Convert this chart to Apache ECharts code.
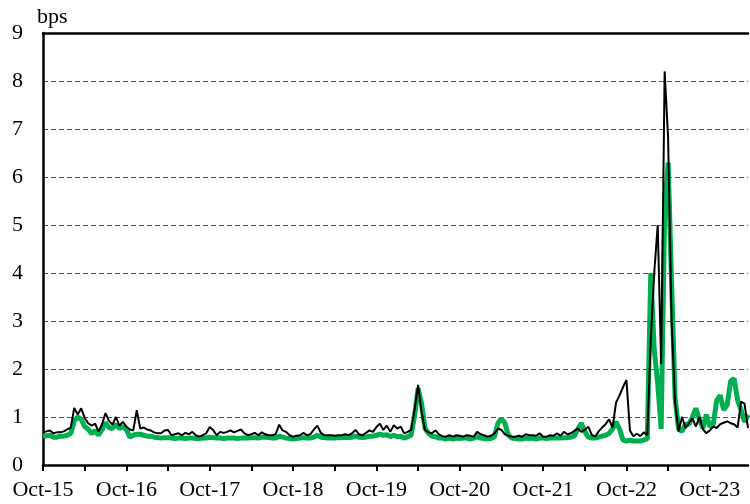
<!DOCTYPE html>
<html>
<head>
<meta charset="utf-8">
<script src="https://cdn.jsdelivr.net/npm/echarts@6/dist/echarts.min.js"></script>
<style>html,body{margin:0;padding:0;background:#fff}#c{width:750px;height:504px}</style>
</head>
<body>
<div id="c"></div>
<script>
// Semi-monthly observations from Oct-2015 to Mar-2024
const monthNames = ['Jan','Feb','Mar','Apr','May','Jun','Jul','Aug','Sep','Oct','Nov','Dec'];
const startMonthIndex = 9; // October
const startYear = 2015;

const blackSeries = [
0.69,0.70,0.72,0.66,0.68,0.68,0.70,0.74,0.78,1.19,1.05,1.18,0.98,0.87,0.82,0.86,0.70,0.85,1.08,0.92,
0.84,1.00,0.82,0.90,0.80,0.74,0.72,1.14,0.76,0.78,0.74,0.72,0.68,0.66,0.66,0.72,0.73,0.62,0.64,0.66,
0.62,0.67,0.64,0.69,0.62,0.59,0.62,0.66,0.79,0.73,0.62,0.69,0.67,0.69,0.72,0.68,0.71,0.74,0.66,0.62,
0.64,0.67,0.62,0.68,0.64,0.62,0.62,0.64,0.84,0.72,0.69,0.62,0.59,0.61,0.62,0.67,0.62,0.64,0.74,0.82,
0.67,0.62,0.62,0.62,0.61,0.62,0.62,0.64,0.62,0.66,0.73,0.64,0.62,0.67,0.72,0.69,0.79,0.86,0.73,0.82,
0.69,0.83,0.76,0.80,0.66,0.69,0.73,1.16,1.67,1.10,0.73,0.68,0.66,0.72,0.64,0.60,0.59,0.62,0.59,0.62,
0.61,0.59,0.62,0.61,0.59,0.69,0.64,0.62,0.59,0.61,0.66,0.76,0.73,0.64,0.61,0.59,0.59,0.61,0.59,0.64,
0.62,0.62,0.61,0.66,0.59,0.59,0.62,0.61,0.66,0.61,0.69,0.64,0.66,0.71,0.76,0.69,0.73,0.80,0.63,0.59,
0.70,0.78,0.85,0.95,0.78,1.30,1.45,1.62,1.77,0.72,0.60,0.65,0.60,0.68,0.62,2.60,4.00,5.00,2.10,8.20,
6.80,3.00,1.30,0.70,1.00,0.77,0.87,0.97,0.80,1.00,0.75,0.66,0.72,0.80,0.77,0.85,0.88,0.91,0.87,0.85,
0.78,1.32,1.28,0.77
];

const greenSeries = [
0.60,0.61,0.62,0.58,0.58,0.60,0.60,0.62,0.66,0.92,1.00,0.95,0.80,0.75,0.65,0.72,0.62,0.74,0.88,0.78,
0.76,0.85,0.76,0.80,0.74,0.58,0.62,0.64,0.64,0.62,0.60,0.60,0.58,0.57,0.56,0.57,0.57,0.56,0.55,0.56,
0.56,0.55,0.56,0.56,0.55,0.55,0.56,0.56,0.58,0.57,0.56,0.56,0.55,0.56,0.56,0.56,0.55,0.56,0.56,0.56,
0.57,0.57,0.56,0.58,0.58,0.57,0.56,0.56,0.60,0.58,0.56,0.55,0.54,0.55,0.56,0.57,0.56,0.56,0.58,0.62,
0.58,0.57,0.56,0.56,0.56,0.57,0.57,0.58,0.57,0.58,0.60,0.58,0.57,0.58,0.60,0.60,0.62,0.64,0.62,0.63,
0.59,0.62,0.59,0.60,0.56,0.59,0.62,1.03,1.60,1.28,0.76,0.66,0.60,0.59,0.56,0.56,0.54,0.56,0.54,0.56,
0.55,0.56,0.56,0.54,0.56,0.59,0.56,0.55,0.54,0.55,0.59,0.87,0.97,0.87,0.62,0.56,0.55,0.54,0.54,0.56,
0.55,0.56,0.54,0.56,0.56,0.55,0.56,0.56,0.56,0.56,0.57,0.57,0.58,0.60,0.75,0.87,0.70,0.58,0.56,0.56,
0.58,0.60,0.62,0.66,0.75,0.90,0.75,0.52,0.50,0.52,0.50,0.50,0.50,0.52,0.55,4.00,2.40,1.70,0.75,5.30,
6.30,3.80,1.40,0.75,0.70,0.85,0.85,1.00,1.18,0.95,0.77,1.05,0.80,0.85,1.35,1.45,1.15,1.25,1.75,1.80,
1.35,1.15,0.90,1.05
];

const xTickLabels = ['Oct-15','Oct-16','Oct-17','Oct-18','Oct-19','Oct-20','Oct-21','Oct-22','Oct-23'];
const yTicks = [0,1,2,3,4,5,6,7,8,9];

const categories = [];
for (let i = 0; i < blackSeries.length; i++) {
  const m = startMonthIndex + Math.floor(i / 2);
  const yr = startYear + Math.floor(m / 12);
  const name = monthNames[m % 12] + '-' + String(yr).slice(2);
  categories.push(i % 2 === 0 ? name : name + ' (2)');
}

const font = 'Liberation Serif';
const chart = echarts.init(document.getElementById('c'), null, {renderer: 'canvas'});
chart.setOption({
  animation: false,
  backgroundColor: '#fff',
  grid: {left: 43, right: 2, top: 33, bottom: 39, containLabel: false},
  xAxis: [{
    type: 'category',
    data: categories,
    boundaryGap: false,
    axisLine: {show: true, lineStyle: {color: '#000', width: 2.5}},
    axisTick: {show: true, interval: function (idx) { return idx % 12 === 0; }, length: 6, inside: false, lineStyle: {color: '#000', width: 2}},
    axisLabel: {
      interval: function (idx) { return idx % 24 === 0; },
      formatter: function (v, idx) { return xTickLabels[Math.round(idx / 24)] || ''; },
      fontFamily: font, fontSize: 22, color: '#000', margin: 14
    },
    splitLine: {show: false}
  }, {
    type: 'category',
    position: 'top',
    data: categories,
    boundaryGap: false,
    axisLine: {show: true, lineStyle: {color: '#000', width: 2.5}},
    axisTick: {show: false},
    axisLabel: {show: false},
    splitLine: {show: false}
  }],
  yAxis: {
    type: 'value',
    min: yTicks[0], max: yTicks[yTicks.length - 1], interval: 1,
    axisLine: {show: true, lineStyle: {color: '#000', width: 2.5}},
    axisTick: {show: false},
    axisLabel: {fontFamily: font, fontSize: 22, color: '#000', margin: 20},
    splitLine: {show: true, lineStyle: {color: '#555', width: 1, type: [5, 3]}}
  },
  graphic: [{
    type: 'text', left: 37, top: 6,
    style: {text: 'bps', font: '22px "Liberation Serif"', fill: '#000'}
  }],
  series: [{
    name: 'green', type: 'line', data: greenSeries, symbol: 'none',
    lineStyle: {color: '#00B050', width: 5}, z: 2
  }, {
    name: 'black', type: 'line', data: blackSeries, symbol: 'none',
    lineStyle: {color: '#000', width: 2}, z: 3
  }]
});
</script>
</body>
</html>
